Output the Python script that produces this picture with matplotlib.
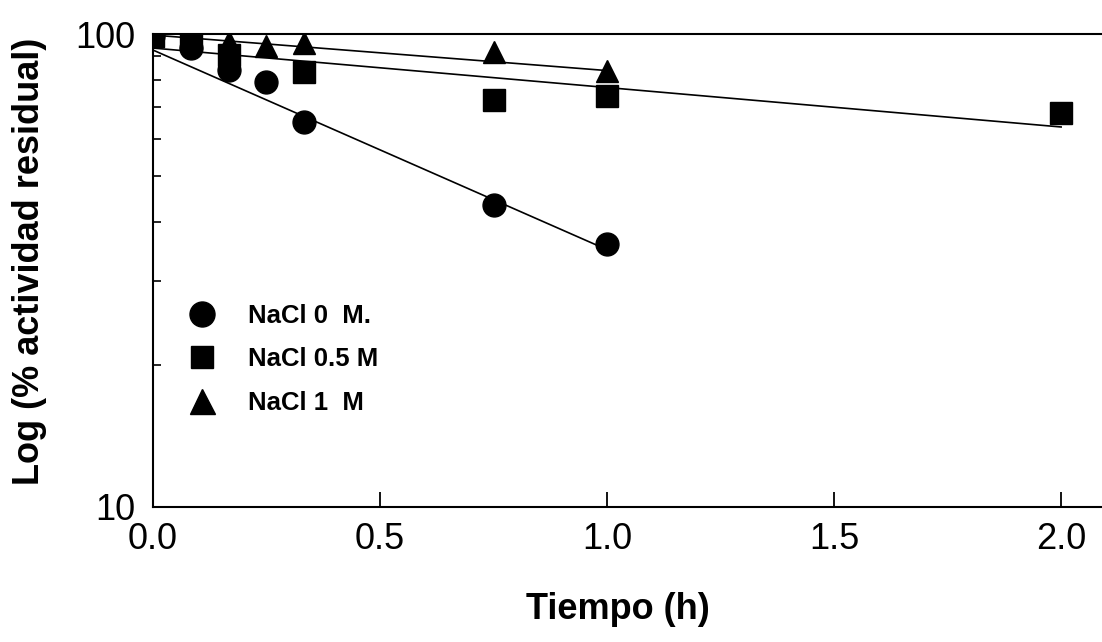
import numpy as np
import matplotlib.pyplot as plt
from matplotlib.lines import Line2D
from matplotlib.ticker import FixedLocator, NullFormatter

plt.rcParams['font.family'] = ['Liberation Sans', 'DejaVu Sans']

# tiempo de incubacion (h) y % de actividad residual
t_0M = [0.0, 0.083, 0.167, 0.25, 0.333, 0.75, 1.0]
act_0M = [99.0, 93.4, 83.9, 79.2, 65.2, 43.5, 36.0]

t_05M = [0.0, 0.083, 0.167, 0.333, 0.75, 1.0, 2.0]
act_05M = [99.0, 98.1, 90.3, 83.1, 72.5, 73.9, 68.1]

t_1M = [0.0, 0.083, 0.167, 0.25, 0.333, 0.75, 1.0]
act_1M = [99.0, 98.5, 96.2, 94.3, 95.7, 91.6, 83.5]

# rectas de ajuste (extremos)
fit_t_0M, fit_y_0M = [0.0, 1.0], [92.5, 35.0]
fit_t_05M, fit_y_05M = [0.0, 2.0], [93.4, 63.6]
fit_t_1M, fit_y_1M = [0.0, 1.0], [99.5, 83.7]

labels = ["NaCl 0  M.", "NaCl 0.5 M", "NaCl 1  M"]

fig = plt.figure(figsize=(11.02, 6.42), dpi=100)
ax = fig.add_axes([0.1388, 0.2103, 0.8612, 0.7367])

for ft, fy in [(fit_t_0M, fit_y_0M), (fit_t_05M, fit_y_05M), (fit_t_1M, fit_y_1M)]:
    ax.plot(ft, fy, color='black', lw=1.2)

ax.plot(t_05M, act_05M, 's', color='black', ms=15.5, ls='none')
ax.plot(t_1M, act_1M, '^', color='black', ms=15.5, ls='none')
ax.plot(t_0M, act_0M, 'o', color='black', ms=16.5, ls='none')

ax.set_yscale('log')
ax.set_ylim(10, 100)
ax.set_xlim(0, 2.09)

ax.yaxis.set_major_locator(FixedLocator([10, 100]))
ax.yaxis.set_major_formatter(plt.FuncFormatter(lambda v, p: "%d" % v))
ax.yaxis.set_minor_locator(FixedLocator([20, 30, 40, 50, 60, 70, 80, 90]))
ax.yaxis.set_minor_formatter(NullFormatter())
ax.set_xticks([0.0, 0.5, 1.0, 1.5, 2.0])
ax.set_xticklabels(["0.0", "0.5", "1.0", "1.5", "2.0"])

ax.tick_params(axis='x', which='major', direction='in', length=11, width=1.3,
               labelsize=26, pad=11)
ax.tick_params(axis='y', which='major', direction='in', length=0, labelsize=26, pad=13)
ax.tick_params(axis='y', which='minor', direction='in', length=6, width=1.2)

for side in ['left', 'bottom', 'top']:
    ax.spines[side].set_linewidth(1.5)
ax.spines['right'].set_visible(False)

ax.set_xlabel("Tiempo (h)", fontsize=26, fontweight='bold')
ax.xaxis.set_label_coords(0.49, -0.18)
ax.set_ylabel("Log (% actividad residual)", fontsize=26, fontweight='bold')
ax.yaxis.set_label_coords(-0.112, 0.52)

handles = [
    Line2D([], [], marker='o', color='black', ls='none', ms=18),
    Line2D([], [], marker='s', color='black', ls='none', ms=16),
    Line2D([], [], marker='^', color='black', ls='none', ms=18),
]
ax.legend(handles, labels, loc='upper left', bbox_to_anchor=(0.0, 0.478),
          frameon=False, prop={'family': ['Liberation Sans Narrow', 'Liberation Sans'],
                               'weight': 'bold', 'size': 18.5},
          handletextpad=0.8, labelspacing=0.75)

fig.savefig("out.png", dpi=100)
